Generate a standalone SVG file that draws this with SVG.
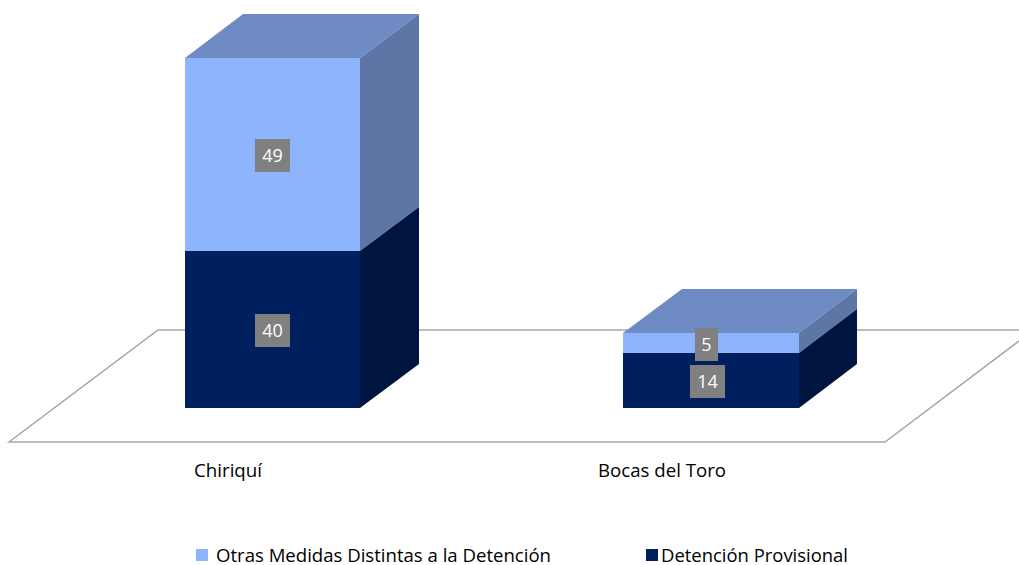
<svg xmlns="http://www.w3.org/2000/svg" width="1019" height="565" viewBox="0 0 1019 565">
<style>
.lt{fill:#8EB4FE}.top{fill:#6F8BC3}.lts{fill:#5E76A6}.dk{fill:#001F5F}.dks{fill:#001440}
.lbl{fill:#808080}
.v{font-family:"Open Sans","Noto Sans",sans-serif;font-size:18px;fill:#fff;text-anchor:middle}
.t{font-family:"Open Sans","Noto Sans",sans-serif;font-size:18px;fill:#000}
</style>
<rect width="1019" height="565" fill="#fff"/>
<g id="floor">
<path d="M1019,330 L158,330 L9,442 L885,442 L1019,341" fill="none" stroke="#A6A6A6" stroke-width="1.5"/>
</g>
<g id="bar-chiriqui">
<polygon class="top" points="185,58 243,14 419,14 360,58"/>
<polygon class="lts" points="360,58 419,14 419,207 360,251"/>
<polygon class="dks" points="360,251 419,207 419,364 360,408"/>
<rect class="lt" x="185" y="58" width="175" height="193"/>
<rect class="dk" x="185" y="251" width="175" height="157"/>
<rect class="lbl" x="255" y="139" width="35" height="33"/>
<text class="v" x="272.5" y="162">49</text>
<rect class="lbl" x="255" y="314" width="35" height="33"/>
<text class="v" x="272.5" y="337">40</text>
</g>
<g id="bar-bocas">
<polygon class="top" points="623,333 682,289 857,289 799,333"/>
<polygon class="lts" points="799,333 857,289 857,309 799,353"/>
<polygon class="dks" points="799,353 857,309 857,364 799,408"/>
<rect class="lt" x="623" y="333" width="176" height="20"/>
<rect class="dk" x="623" y="353" width="176" height="55"/>
<rect class="lbl" x="695" y="328" width="23" height="33"/>
<text class="v" x="706.5" y="351">5</text>
<rect class="lbl" x="690" y="365" width="35" height="33"/>
<text class="v" x="707.5" y="388">14</text>
</g>
<g id="axis-labels">
<text class="t" x="194" y="477" textLength="68" lengthAdjust="spacingAndGlyphs">Chiriquí</text>
<text class="t" x="598" y="477" textLength="128" lengthAdjust="spacingAndGlyphs">Bocas del Toro</text>
</g>
<g id="legend">
<rect class="lt" x="196" y="549" width="12" height="12"/>
<text class="t" x="216" y="562" textLength="335" lengthAdjust="spacingAndGlyphs">Otras Medidas Distintas a la Detención</text>
<rect class="dk" x="646" y="549" width="12" height="12"/>
<text class="t" x="661" y="562" textLength="187" lengthAdjust="spacingAndGlyphs">Detención Provisional</text>
</g>
</svg>
